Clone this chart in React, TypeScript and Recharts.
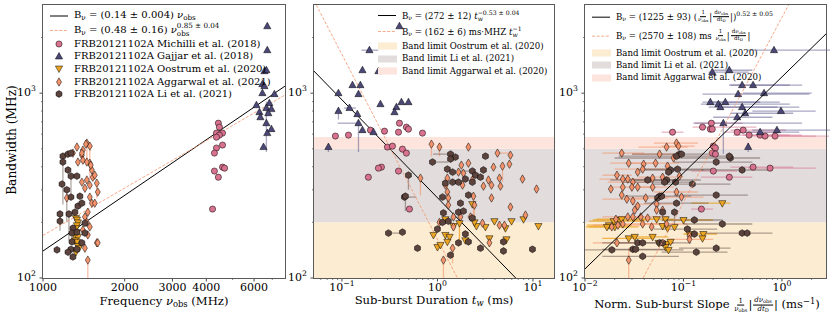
import React from "react";
import { ScatterChart, Scatter, XAxis, YAxis, ErrorBar, ReferenceArea } from "recharts";

// rows: [x, y, xLow, xHigh, yLow, yHigh]   (0 = no bar on that side)
type Row = number[];

// ---------- panel 1 : frequency (MHz) vs bandwidth (MHz)
const P1_MICH: Row[] = [
  [4430, 688], [4470, 655], [4590, 608], [4360, 608], [4470, 593], [4590, 524], [4360, 505],
  [4285, 474], [4360, 578], [4285, 379], [4590, 398], [4670, 393], [4430, 351], [4217, 236],
];
const P1_GAJ: Row[] = [
  [6710, 2302], [6710, 1708], [6550, 1315], [6660, 1331], [6440, 1119], [6550, 1091], [6440, 1000],
  [7130, 988], [6120, 861], [6830, 883], [6660, 831], [6950, 820], [6280, 789], [6770, 779],
  [6330, 741], [6660, 688, 0, 0, 480, 900], [6950, 639], [6710, 608], [6500, 511],
];
const P1_OOS: Row[] = [
  [1322, 211], [1334, 207], [1345, 200], [1334, 193], [1322, 186], [1334, 177], [1311, 170],
  [1345, 167], [1311, 160], [1334, 157], [1345, 149], [1356, 145], [1322, 138],
];
const P1_AGG: Row[] = [
  [1451, 537, 0, 0, 440, 0], [1488, 517, 0, 0, 420, 0], [1403, 492], [1391, 462], [1403, 434],
  [1488, 418, 0, 0, 340, 0], [1514, 384], [1451, 339], [1526, 351], [1579, 326, 0, 0, 270, 0],
  [1592, 292], [1488, 274], [1514, 254], [1463, 227], [1427, 214], [1451, 200], [1488, 189],
  [1403, 182], [1463, 171], [1579, 155], [1427, 145], [1463, 125, 0, 0, 100, 0], [1224, 271],
  [1334, 511], [1439, 530], [1391, 474], [1289, 474], [1552, 360], [1500, 408], [1345, 424],
  [1451, 424], [1391, 330], [1488, 318], [1427, 306], [1552, 254], [1592, 155],
];
const P1_LI: Row[] = [
  [1184, 456], [1236, 468], [1268, 474], [1184, 424, 0, 0, 250, 0], [1236, 384],
  [1268, 356, 0, 0, 280, 0], [1175, 322], [1334, 356], [1268, 274], [1368, 277], [1345, 245],
  [1391, 254], [1311, 227], [1155, 222, 0, 0, 180, 0], [1155, 203], [1246, 222, 0, 0, 160, 0],
  [1427, 198], [1289, 186], [1279, 175], [1279, 157], [1268, 143], [1126, 142], [1236, 138],
  [1289, 130], [1334, 143], [1391, 155], [1427, 175], [1334, 177], [1224, 300, 0, 0, 200, 0],
];
const P1_FIT_LIN: Row[] = [[1000, 140], [7800, 1092]];
const P1_FIT_POW: Row[] = [[1000, 170], [7800, 977]];

// ---------- panel 2 : sub-burst duration (ms)
const P2_MICH: Row[] = [
  [0.0855, 586], [0.117, 593], [0.199, 631], [0.279, 623], [0.4, 688], [0.391, 615], [0.473, 655],
  [0.497, 639], [0.697, 608], [0.299, 511], [0.338, 517], [0.43, 498], [0.473, 474], [0.259, 398],
  [0.241, 393], [0.391, 379], [0.189, 351], [0.509, 236],
];
const P2_GAJ: Row[] = [
  [0.4, 2302], [0.194, 1708, 0.16, 0.24], [0.164, 1331], [0.241, 1315], [0.129, 1105], [0.156, 1105],
  [0.0919, 1000], [0.149, 988], [0.253, 872], [0.372, 840], [0.42, 894], [0.497, 894],
  [0.0919, 800, 0, 0, 720, 0], [0.12, 831, 0.105, 0.14], [0.145, 770], [0.355, 789],
  [0.149, 688, 0.09, 0, 480, 0], [0.164, 631], [0.214, 615], [0.0722, 511, 0, 0, 480, 0],
];
const P2_OOS: Row[] = [
  [2.32, 251], [3.95, 203], [5.96, 203], [7.96, 208], [11.4, 191], [0.908, 171], [1.21, 208],
  [1.47, 191], [2.56, 191], [3.18, 189], [5.15, 186], [1.21, 171], [1.34, 167], [1.96, 160],
  [3.5, 164], [5.28, 162], [1.0, 147], [1.27, 157], [1.7, 198, 0, 0, 160, 0], [1.075, 151], [2.44, 200],
];
const P2_AGG: Row[] = [
  [0.865, 530, 0, 0, 455, 0], [1.05, 511, 0, 0, 455, 0], [2.11, 511], [4.25, 474, 0, 5.81], [5.81, 462],
  [1.78, 408], [2.11, 418], [3.86, 398], [4.8, 403, 0, 0, 330, 0], [5.67, 413], [1.66, 374], [1.87, 369],
  [1.27, 347, 0, 0, 260, 0], [2.32, 339], [3.42, 339], [4.46, 347], [7.77, 343], [1.21, 318], [1.83, 318],
  [3.03, 314], [3.68, 318], [4.57, 314], [1.27, 292], [10.9, 303], [1.3, 271], [2.38, 277, 0, 0, 215, 0],
  [3.68, 271], [0.664, 347, 0, 0, 280, 0], [5.81, 242], [2.44, 248, 0, 0, 190, 0], [1.3, 248], [8.34, 219],
  [1.05, 200], [1.47, 214], [1.74, 214], [2.96, 198], [2.22, 214], [4.46, 193], [5.03, 193], [1.47, 189],
  [3.5, 155], [1.44, 145, 0, 0, 120, 0], [1.155, 125, 0, 0, 100, 0],
];
const P2_LI: Row[] = [
  [1.37, 468, 0.9, 0], [1.54, 451], [1.37, 440], [3.18, 456], [0.887, 424, 0, 1.3], [1.27, 388],
  [1.44, 374], [2.32, 379, 1.6, 0], [2.5, 360], [3.03, 384], [1.21, 326], [1.44, 330], [1.66, 330],
  [1.96, 343], [2.32, 330], [2.82, 351], [0.451, 274, 0, 0.6], [1.13, 274], [1.74, 254], [2.11, 281],
  [1.155, 225], [1.66, 227], [1.87, 230], [1.3, 203], [1.13, 200], [2.32, 211], [1.0, 184], [1.96, 173],
  [1.66, 155], [2.11, 157], [2.82, 145], [4.91, 157], [4.91, 140], [9.88, 143], [0.618, 145], [1.37, 133],
  [0.43, 177], [0.497, 360, 0, 0, 300, 0], [0.462, 277, 0, 0, 230, 0], [0.307, 175, 0, 0.4],
];
const P2_FIT_POW: Row[] = [[0.05, 1330], [6.6, 100]];
const P2_FIT_INV: Row[] = [[0.054, 3000], [1.62, 100]];

// ---------- panel 3 : normalised sub-burst slope (1/ms)
const P3_MICH: Row[] = [
  [0.0774, 615, 0.06, 0.1], [0.156, 655, 0.124, 0.55], [0.192, 688, 0.13, 0.4], [0.1875, 639], [0.196, 639],
  [0.351, 615, 0.26, 0.9], [0.404, 631, 0.3, 1.1], [0.464, 593, 0.32, 1.2], [0.6, 593, 0.4, 1.6],
  [0.673, 586, 0.45, 2.2], [0.85, 586, 0.55, 3], [0.201, 517], [0.211, 505], [0.196, 474], [0.211, 468],
  [0.509, 398, 0.3, 1.3], [0.757, 393, 0.45, 2.2], [0.201, 379, 0.12, 0.35], [0.292, 351, 0.15, 0.5],
  [0.152, 236, 0.12, 0.2],
];
const P3_GAJ: Row[] = [
  [0.83, 1708, 0.45, 3.5], [0.196, 1299, 0.18, 0.46], [0.292, 1331, 0.2, 0.5], [0.394, 1105, 0.29, 1.6],
  [0.509, 1105, 0.3, 1.2], [0.359, 988, 0.156, 1.9], [0.658, 1000, 0.4, 2.0], [0.1875, 894, 0.156, 0.95],
  [0.226, 872, 0.15, 1.2], [0.237, 840, 0.18, 0.9], [0.266, 894, 0.2, 0.6], [0.394, 840, 0.25, 1.5],
  [0.423, 779, 0.3, 1.3], [0.977, 800, 0.5, 2.2], [0.351, 741, 0.2, 0.8], [0.254, 688, 0.126, 1.6, 470, 0],
  [0.889, 631, 0.5, 3.5], [0.6, 615, 0.35, 1.5], [0.454, 511, 0, 0, 480, 540],
];
const P3_OOS: Row[] = [
  [0.0196, 203, 0.011, 0.04], [0.022, 206, 0.012, 0.045], [0.0236, 208, 0.013, 0.05], [0.0175, 193, 0.0105, 0.03],
  [0.0201, 189, 0.011, 0.035], [0.0167, 189, 0.0102, 0.028], [0.0534, 208, 0.035, 0.08], [0.0658, 208],
  [0.1, 206, 0.06, 0.2], [0.0614, 191], [0.0689, 186], [0.0811, 189], [0.0486, 167, 0.03, 0.07],
  [0.0278, 164, 0.015, 0.05], [0.032, 167], [0.0559, 155], [0.0674, 153], [0.0739, 157],
  [0.159, 173, 0.1, 0.22], [0.156, 164], [0.0658, 147], [0.0705, 142], [0.248, 254, 0.12, 0.3], [0.115, 173],
];
const P3_AGG: Row[] = [
  [0.085, 537, 0.05, 0.14], [0.089, 517, 0.06, 0.13], [0.0674, 511, 0.035, 0.11], [0.0572, 468, 0.03, 0.1],
  [0.0236, 474, 0.015, 0.04], [0.0793, 446], [0.0278, 418, 0.018, 0.05], [0.0394, 413],
  [0.0521, 418, 0.03, 0.09], [0.0343, 374], [0.0385, 388, 0.02, 0.08], [0.0689, 403],
  [0.0211, 360, 0.015, 0.03], [0.0242, 343, 0.014, 0.04], [0.0272, 343], [0.0306, 330, 0.017, 0.05],
  [0.0486, 347], [0.0614, 351, 0.035, 0.1], [0.0912, 356], [0.0242, 310], [0.0299, 310, 0.018, 0.05],
  [0.0343, 310], [0.0486, 310, 0.03, 0.08], [0.0183, 303], [0.085, 292, 0.05, 0.14], [0.0236, 281],
  [0.0266, 267, 0.015, 0.04], [0.0306, 261], [0.0413, 271, 0.025, 0.07], [0.0955, 274, 0.06, 0.16],
  [0.0343, 245], [0.0534, 251, 0.03, 0.09], [0.0614, 233], [0.0272, 214, 0.015, 0.045], [0.0306, 214],
  [0.0433, 211], [0.0368, 214, 0.02, 0.07], [0.0216, 193, 0.012, 0.04], [0.0242, 196],
  [0.0385, 196, 0.02, 0.07], [0.0475, 189], [0.0674, 196, 0.04, 0.11], [0.0534, 233],
  [0.0211, 155, 0.012, 0.04], [0.115, 169], [0.115, 162, 0.07, 0.2], [0.0278, 125, 0, 0, 100, 145],
  [0.0187, 189], [0.032, 233], [0.0206, 208],
];
const P3_LI: Row[] = [
  [0.0912, 468, 0.03, 0.2], [0.085, 456], [0.0739, 384, 0.035, 0.16], [0.0705, 374], [0.087, 388, 0.04, 0.2],
  [0.0674, 339, 0.03, 0.15], [0.083, 330], [0.0433, 339, 0.018, 0.09], [0.0643, 330, 0.025, 0.13],
  [0.123, 322, 0.05, 0.3], [0.215, 424, 0.08, 0.5], [0.299, 446, 0.02, 0.6], [0.394, 384, 0.15, 0.8],
  [0.215, 281, 0.08, 0.45], [0.0572, 277, 0.025, 0.12], [0.0546, 271], [0.06, 277], [0.085, 254, 0.04, 0.18],
  [0.0811, 227, 0, 0, 180, 0], [0.0614, 227], [0.129, 206, 0.06, 0.25], [0.248, 196, 0.1, 0.5],
  [0.1096, 184, 0.05, 0.22], [0.394, 175, 0.15, 0.8], [0.443, 175], [0.129, 173], [0.0343, 155, 0.015, 0.08],
  [0.0385, 155], [0.0572, 155, 0.02, 0.12], [0.0614, 155], [0.01874, 142, 0.01, 0.1], [0.0306, 143, 0.015, 0.07],
  [0.0327, 143], [0.0385, 131, 0.015, 0.09], [0.135, 138, 0.06, 0.28], [0.215, 145, 0.09, 0.3],
  [0.292, 456, 0.022, 0.3], [0.0955, 468],
];
const P3_FIT_POW: Row[] = [[0.01, 112], [2.8, 2092]];
const P3_FIT_LIN: Row[] = [[0.0389, 100], [1.167, 3000]];

// band limits (MHz)
const BAND_OOS = [100, 200];
const BAND_LI = [200, 500];
const BAND_AGG = [500, 580];

const Y_TICKS = [100, 200, 300, 400, 500, 600, 700, 800, 900, 1000, 2000];
const P1_TICKS = [1000, 2000, 3000, 4000, 5000, 6000, 7000];
const P1_LABELS: Record<number, string[]> = { 1000: ["1000"], 2000: ["2000"], 3000: ["3000"], 4000: ["4000"], 6000: ["6000"] };
const P2_TICKS = [0.06, 0.07, 0.08, 0.09, 0.1, 0.2, 0.3, 0.4, 0.5, 0.6, 0.7, 0.8, 0.9, 1, 2, 3, 4, 5, 6, 7, 8, 9, 10];
const P2_LABELS: Record<number, string[]> = { 0.1: ["10", "\u22121"], 1: ["10", "0"], 10: ["10", "1"] };
const P3_TICKS = [0.01, 0.02, 0.03, 0.04, 0.05, 0.06, 0.07, 0.08, 0.09, 0.1, 0.2, 0.3, 0.4, 0.5, 0.6, 0.7, 0.8, 0.9, 1, 2];
const P3_LABELS: Record<number, string[]> = { 0.01: ["10", "\u22122"], 0.1: ["10", "\u22121"], 1: ["10", "0"] };

const SERIF = "'DejaVu Serif', serif";
const COL = { mich: "#d9728f", gaj: "#4b4878", oos: "#eca522", agg: "#f4936b", li: "#5c433d" };
const ERR = {
  mich: "rgba(217,114,143,0.55)",
  gaj: "rgba(85,82,135,0.5)",
  oos: "rgba(236,165,34,0.8)",
  agg: "rgba(244,147,107,0.6)",
  li: "rgba(100,78,72,0.5)",
};
const BAND = { oos: "#fcecd2", li: "#e2dddc", agg: "#fde4dc" };
const FRAME = "#5a5a5a";

function toPts(rows: Row[]) {
  return rows.map(([x, y, xlo = 0, xhi = 0, ylo = 0, yhi = 0]) => ({
    x,
    y,
    ex: xlo || xhi ? [xlo ? x - xlo : 0, xhi ? xhi - x : 0] : undefined,
    ey: ylo || yhi ? [ylo ? y - ylo : 0, yhi ? yhi - y : 0] : undefined,
  }));
}

function mark(kind: string, cx: number, cy: number, fill: string) {
  const sw = 0.5;
  if (kind === "circle") return <circle cx={cx} cy={cy} r={3.1} fill={fill} stroke="#000" strokeWidth={sw} />;
  let pts = "";
  if (kind === "tri") pts = `${cx},${cy - 4} ${cx - 3.6},${cy + 2.5} ${cx + 3.6},${cy + 2.5}`;
  if (kind === "tridown") pts = `${cx},${cy + 4} ${cx - 3.6},${cy - 2.5} ${cx + 3.6},${cy - 2.5}`;
  if (kind === "diamond") pts = `${cx},${cy - 4.2} ${cx + 2.5},${cy} ${cx},${cy + 4.2} ${cx - 2.5},${cy}`;
  if (kind === "hex") {
    const a: string[] = [];
    for (let k = 0; k < 6; k++) {
      const t = ((-90 + k * 60) * Math.PI) / 180;
      a.push(`${cx + 3.4 * Math.cos(t)},${cy + 3.4 * Math.sin(t)}`);
    }
    pts = a.join(" ");
  }
  return <polygon points={pts} fill={fill} stroke="#000" strokeWidth={sw} />;
}

function series(key: string, rows: Row[], kind: string, fill: string, err: string) {
  return (
    <Scatter
      key={key}
      data={toPts(rows)}
      fill={fill}
      isAnimationActive={false}
      shape={(p: any) => (p.cx == null ? <g /> : mark(kind, p.cx, p.cy, fill))}
    >
      <ErrorBar dataKey="ex" direction="x" stroke={err} strokeWidth={1.3} width={0} />
      <ErrorBar dataKey="ey" direction="y" stroke={err} strokeWidth={1.3} width={0} />
    </Scatter>
  );
}

function fit(key: string, rows: Row[], stroke: string, dash?: string) {
  return (
    <Scatter
      key={key}
      data={toPts(rows)}
      fill={stroke}
      isAnimationActive={false}
      line={{ stroke, strokeWidth: dash ? 0.8 : 1, strokeDasharray: dash }}
      shape={() => <g />}
    />
  );
}

function bands() {
  return [
    <ReferenceArea key="b1" y1={BAND_OOS[0]} y2={BAND_OOS[1]} fill={BAND.oos} fillOpacity={1} stroke="none" />,
    <ReferenceArea key="b2" y1={BAND_LI[0]} y2={BAND_LI[1]} fill={BAND.li} fillOpacity={1} stroke="none" />,
    <ReferenceArea key="b3" y1={BAND_AGG[0]} y2={BAND_AGG[1]} fill={BAND.agg} fillOpacity={1} stroke="none" />,
  ];
}

function xTick(labels: Record<number, string[]>, dy: number) {
  return (p: any) => {
    const { x, y, payload } = p;
    const lab = labels[payload.value];
    return (
      <g>
        <line x1={x} x2={x} y1={y} y2={y + (lab ? 3.5 : 2)} stroke="#333" strokeWidth={lab ? 0.9 : 0.6} />
        {lab && (
          <text x={x} y={y + dy} textAnchor="middle" fontSize={11} fontFamily={SERIF} fill="#000">
            <tspan>{lab[0]}</tspan>
            {lab[1] && (
              <tspan dy={-5} fontSize={7.7}>
                {lab[1]}
              </tspan>
            )}
          </text>
        )}
      </g>
    );
  };
}

const yTick = (p: any) => {
  const { x, y, payload } = p;
  const v = payload.value;
  const lab = v === 100 ? "2" : v === 1000 ? "3" : null;
  return (
    <g>
      <line x1={x} x2={x - (lab ? 3.5 : 2)} y1={y} y2={y} stroke="#333" strokeWidth={lab ? 0.9 : 0.6} />
      {lab && (
        <text x={x - 7} y={y + 3} textAnchor="end" fontSize={11} fontFamily={SERIF} fill="#000">
          <tspan>10</tspan>
          <tspan dy={-5} fontSize={7.7}>
            {lab}
          </tspan>
        </text>
      )}
    </g>
  );
};

const PLOT_TOP = 5;
const PLOT_H = 273;
const YW = 40;

function Panel(props: {
  left: number;
  plotW: number;
  right: number;
  xDomain: number[];
  xTicks: number[];
  xLabels: Record<number, string[]>;
  labelDy: number;
  items: React.ReactNode[];
}) {
  const { left, plotW, right, xDomain, xTicks, xLabels, labelDy, items } = props;
  return (
    <>
      <div style={{ position: "absolute", left: left - YW, top: 0 }}>
        <ScatterChart
          width={YW + plotW + right}
          height={PLOT_TOP + PLOT_H + 40}
          margin={{ top: PLOT_TOP, right, bottom: 0, left: 0 }}
        >
          <XAxis
            type="number"
            dataKey="x"
            scale="log"
            domain={xDomain}
            allowDataOverflow
            ticks={xTicks}
            interval={0}
            tick={xTick(xLabels, labelDy)}
            tickLine={false}
            tickSize={0}
            tickMargin={0}
            axisLine={false}
            height={40}
          />
          <YAxis
            type="number"
            dataKey="y"
            scale="log"
            domain={[100, 3000]}
            allowDataOverflow
            ticks={Y_TICKS}
            interval={0}
            tick={yTick}
            tickLine={false}
            tickSize={0}
            tickMargin={0}
            axisLine={false}
            width={YW}
          />
          {items}
        </ScatterChart>
      </div>
      <div
        style={{
          position: "absolute",
          left: left - 0.6,
          top: PLOT_TOP - 0.6,
          width: plotW + 1.2,
          height: PLOT_H + 1.2,
          boxSizing: "border-box",
          border: `1.2px solid ${FRAME}`,
          pointerEvents: "none",
        }}
      />
    </>
  );
}

function LegendRow({
  x,
  y,
  m,
  fs = 8.6,
  children,
}: {
  x: number;
  y: number;
  m: React.ReactNode;
  fs?: number;
  children: React.ReactNode;
}) {
  return (
    <div
      style={{
        position: "absolute",
        left: x,
        top: y,
        transform: "translateY(-50%)",
        display: "flex",
        alignItems: "center",
        whiteSpace: "nowrap",
        fontSize: fs,
        fontFamily: SERIF,
        lineHeight: 1,
      }}
    >
      <svg width={22} height={12} style={{ marginRight: 4, flex: "none" }}>
        {m}
      </svg>
      <span>{children}</span>
    </div>
  );
}

const lineMark = (stroke: string, dash?: string) => (
  <line x1={2} x2={20} y1={6} y2={6} stroke={stroke} strokeWidth={dash ? 0.8 : 1} strokeDasharray={dash} />
);
const patch = (fill: string) => <rect x={2} y={2.5} width={19} height={7} fill={fill} />;

const Sub = ({ children }: { children: React.ReactNode }) => (
  <span style={{ fontSize: "0.72em", verticalAlign: "-0.3em" }}>{children}</span>
);
const Sup = ({ children }: { children: React.ReactNode }) => (
  <span style={{ fontSize: "0.72em", verticalAlign: "0.55em" }}>{children}</span>
);
const SupSub = ({ sup, sub }: { sup: React.ReactNode; sub: React.ReactNode }) => (
  <span
    style={{
      display: "inline-flex",
      flexDirection: "column",
      verticalAlign: "middle",
      fontSize: "0.72em",
      lineHeight: 1.05,
    }}
  >
    <span>{sup}</span>
    <span>{sub}</span>
  </span>
);
const Frac = ({ n, d, fs }: { n: React.ReactNode; d: React.ReactNode; fs: number }) => (
  <span
    style={{
      display: "inline-flex",
      flexDirection: "column",
      alignItems: "center",
      verticalAlign: "middle",
      fontSize: fs,
      lineHeight: 1.05,
      margin: "0 1px",
    }}
  >
    <span style={{ borderBottom: "0.6px solid #000", padding: "0 1px" }}>{n}</span>
    <span>{d}</span>
  </span>
);
const Nu = () => <i>ν</i>;

const DASH = "3 1.6";
const P1_FS = 10;

export default function App() {
  const p1 = [
    fit("f1", P1_FIT_LIN, "#000"),
    fit("f2", P1_FIT_POW, COL.agg, DASH),
    series("m", P1_MICH, "circle", COL.mich, ERR.mich),
    series("g", P1_GAJ, "tri", COL.gaj, ERR.gaj),
    series("o", P1_OOS, "tridown", COL.oos, ERR.oos),
    series("a", P1_AGG, "diamond", COL.agg, ERR.agg),
    series("l", P1_LI, "hex", COL.li, ERR.li),
  ];
  const p2 = [
    ...bands(),
    fit("f1", P2_FIT_POW, "#000"),
    fit("f2", P2_FIT_INV, COL.agg, DASH),
    series("m", P2_MICH, "circle", COL.mich, ERR.mich),
    series("g", P2_GAJ, "tri", COL.gaj, ERR.gaj),
    series("o", P2_OOS, "tridown", COL.oos, ERR.oos),
    series("a", P2_AGG, "diamond", COL.agg, ERR.agg),
    series("l", P2_LI, "hex", COL.li, ERR.li),
  ];
  const p3 = [
    ...bands(),
    series("m", P3_MICH, "circle", COL.mich, ERR.mich),
    series("g", P3_GAJ, "tri", COL.gaj, ERR.gaj),
    series("o", P3_OOS, "tridown", COL.oos, ERR.oos),
    series("a", P3_AGG, "diamond", COL.agg, ERR.agg),
    series("l", P3_LI, "hex", COL.li, ERR.li),
    fit("f1", P3_FIT_POW, "#000"),
    fit("f2", P3_FIT_LIN, COL.agg, DASH),
  ];

  const axisLabel: React.CSSProperties = {
    position: "absolute",
    transform: "translate(-50%, -50%)",
    whiteSpace: "nowrap",
    fontFamily: SERIF,
    fontSize: 11.6,
    lineHeight: 1,
  };

  return (
    <div style={{ position: "relative", width: 830, height: 323, overflow: "hidden", background: "#fff" }}>
      <style>{"body{margin:0}"}</style>
      <Panel left={43} plotW={242} right={10} xDomain={[1000, 7800]} xTicks={P1_TICKS} xLabels={P1_LABELS} labelDy={12.5} items={p1} />
      <Panel left={314} plotW={240} right={10} xDomain={[0.051, 16.6]} xTicks={P2_TICKS} xLabels={P2_LABELS} labelDy={13} items={p2} />
      <Panel left={585} plotW={241} right={4} xDomain={[0.01, 2.8]} xTicks={P3_TICKS} xLabels={P3_LABELS} labelDy={13} items={p3} />

      {/* axis labels */}
      <div style={{ ...axisLabel, left: 12, top: 140, fontSize: 12.2, transform: "translate(-50%, -50%) rotate(-90deg)" }}>
        Bandwidth (MHz)
      </div>
      <div style={{ ...axisLabel, left: 164, top: 302 }}>
        Frequency <Nu />
        <Sub>obs</Sub> (MHz)
      </div>
      <div style={{ ...axisLabel, left: 434, top: 301 }}>
        Sub-burst Duration <i>t</i>
        <Sub>
          <i>w</i>
        </Sub>{" "}
        (ms)
      </div>
      <div style={{ ...axisLabel, left: 707, top: 305 }}>
        Norm. Sub-burst Slope{" "}
        <Frac
          fs={7}
          n="1"
          d={
            <>
              <Nu />
              <Sub>obs</Sub>
            </>
          }
        />
        |
        <Frac
          fs={7}
          n={
            <>
              <i>d</i>
              <Nu />
              <Sub>obs</Sub>
            </>
          }
          d={
            <>
              <i>dt</i>
              <Sub>D</Sub>
            </>
          }
        />
        | (ms<Sup>−1</Sup>)
      </div>

      {/* legend panel 1 */}
      <LegendRow x={48} y={16} fs={P1_FS} m={lineMark("#000")}>
        B<Sub>ν</Sub> = (0.14 ± 0.004) <Nu />
        <Sub>obs</Sub>
      </LegendRow>
      <LegendRow x={48} y={30} fs={P1_FS} m={lineMark(COL.agg, DASH)}>
        B<Sub>ν</Sub> = (0.48 ± 0.16) <Nu />
        <SupSub sup="0.85 ± 0.04" sub="obs" />
      </LegendRow>
      <LegendRow x={48} y={43.5} fs={P1_FS} m={mark("circle", 11, 6, COL.mich)}>
        FRB20121102A Michilli et al. (2018)
      </LegendRow>
      <LegendRow x={48} y={56} fs={P1_FS} m={mark("tri", 11, 6.5, COL.gaj)}>
        FRB20121102A Gajjar et al. (2018)
      </LegendRow>
      <LegendRow x={48} y={69} fs={P1_FS} m={mark("tridown", 11, 5.5, COL.oos)}>
        FRB20121102A Oostrum et al. (2020)
      </LegendRow>
      <LegendRow x={48} y={81.5} fs={P1_FS} m={mark("diamond", 11, 6, COL.agg)}>
        FRB20121102A Aggarwal et al. (2021)
      </LegendRow>
      <LegendRow x={48} y={94} fs={P1_FS} m={mark("hex", 11, 6, COL.li)}>
        FRB20121102A Li et al. (2021)
      </LegendRow>

      {/* legend panel 2 */}
      <LegendRow x={376} y={16} m={lineMark("#000")}>
        B<Sub>ν</Sub> = (272 ± 12) <i>t</i>
        <SupSub sup="−0.53 ± 0.04" sub={<i>w</i>} />
      </LegendRow>
      <LegendRow x={376} y={31.5} m={lineMark(COL.agg, DASH)}>
        B<Sub>ν</Sub> = (162 ± 6) ms·MHZ <i>t</i>
        <SupSub sup="−1" sub={<i>w</i>} />
      </LegendRow>
      <LegendRow x={376} y={46} m={patch(BAND.oos)}>
        Band limit Oostrum et al. (2020)
      </LegendRow>
      <LegendRow x={376} y={58.5} m={patch(BAND.li)}>
        Band limit Li et al. (2021)
      </LegendRow>
      <LegendRow x={376} y={71} m={patch(BAND.agg)}>
        Band limit Aggarwal et al. (2020)
      </LegendRow>

      {/* legend panel 3 */}
      <LegendRow x={590} y={17} m={lineMark("#000")}>
        B<Sub>ν</Sub> = (1225 ± 93) (
        <Frac
          fs={5.5}
          n="1"
          d={
            <>
              <Nu />
              <Sub>obs</Sub>
            </>
          }
        />
        |
        <Frac
          fs={5.5}
          n={
            <>
              d<Nu />
              <Sub>obs</Sub>
            </>
          }
          d={
            <>
              dt<Sub>D</Sub>
            </>
          }
        />
        |)<Sup>0.52 ± 0.05</Sup>
      </LegendRow>
      <LegendRow x={590} y={36} m={lineMark(COL.agg, DASH)}>
        B<Sub>ν</Sub> = (2570 ± 108) ms{" "}
        <Frac
          fs={5.5}
          n="1"
          d={
            <>
              <Nu />
              <Sub>obs</Sub>
            </>
          }
        />
        |
        <Frac
          fs={5.5}
          n={
            <>
              d<Nu />
              <Sub>obs</Sub>
            </>
          }
          d={
            <>
              dt<Sub>D</Sub>
            </>
          }
        />
        |
      </LegendRow>
      <LegendRow x={590} y={53} m={patch(BAND.oos)}>
        Band limit Oostrum et al. (2020)
      </LegendRow>
      <LegendRow x={590} y={65} m={patch(BAND.li)}>
        Band limit Li et al. (2021)
      </LegendRow>
      <LegendRow x={590} y={77.5} m={patch(BAND.agg)}>
        Band limit Aggarwal et al. (2020)
      </LegendRow>
    </div>
  );
}
